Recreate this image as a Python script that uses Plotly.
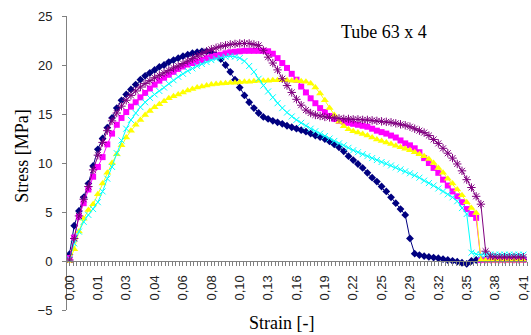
import plotly.graph_objects as go

strain_labels = ["0,00", "0,01", "0,03", "0,04", "0,06", "0,08", "0,10", "0,13", "0,16",
                 "0,19", "0,22", "0,25", "0,29", "0,32", "0,35", "0,38", "0,41"]
label_step = 6

s1_navy = [0.7, 3.6, 5.1, 6.5, 7.9, 9.7, 11.4, 12.5, 13.6, 14.6,
           15.6, 16.4, 17.0, 17.5, 18.0, 18.5, 18.9, 19.2, 19.5, 19.8,
           20.0, 20.3, 20.5, 20.7, 20.9, 21.05, 21.2, 21.3, 21.4, 21.4,
           21.3, 21.0, 20.6, 20.0, 19.3, 18.5, 17.7, 16.9, 16.2, 15.6,
           15.1, 14.7, 14.5, 14.3, 14.15, 14.0, 13.8, 13.65, 13.5, 13.35,
           13.2, 13.0, 12.8, 12.65, 12.45, 12.2, 11.9, 11.6, 11.2, 10.7,
           10.3, 9.9, 9.5, 9.0, 8.5, 8.1, 7.6, 7.1, 6.5, 5.9,
           5.3, 4.7, 2.3, 0.75, 0.6, 0.5, 0.42, 0.35, 0.28, 0.2,
           0.1, 0.02, -0.07, -0.18, -0.3, 0.0, 0.1, 0.12, 0.15, 0.15,
           0.15, 0.15, 0.15, 0.15, 0.15, 0.15, 0.15]

s2_magenta = [0.3, 2.4, 4.5, 5.9, 7.3, 8.6, 9.6, 10.6, 11.9, 13.0,
              13.9, 14.6, 15.2, 15.75, 16.2, 16.7, 17.15, 17.6, 18.0, 18.4,
              18.7, 19.0, 19.3, 19.6, 19.85, 20.05, 20.2, 20.35, 20.5, 20.7,
              20.85, 20.95, 21.05, 21.2, 21.3, 21.35, 21.4, 21.45, 21.45, 21.45,
              21.45, 21.45, 21.4, 21.15, 20.7, 20.2, 19.7, 19.1, 18.5, 17.8,
              17.2, 16.6, 16.1, 15.6, 15.2, 14.8, 14.5, 14.3, 14.2, 14.1,
              14.0, 13.9, 13.8, 13.7, 13.5, 13.3, 13.15, 13.0, 12.8, 12.6,
              12.3, 12.0, 11.8, 11.5, 11.1, 10.5, 10.0, 9.5, 9.0, 8.3,
              7.7, 7.1, 6.6, 6.0, 5.3, 4.8, 4.4, 0.1, 0.1, 0.1,
              0.1, 0.1, 0.1, 0.1, 0.1, 0.1, 0.1]

s3_yellow = [0.0, 1.2, 3.0, 4.3, 5.2, 5.8, 6.8, 7.9, 9.0, 10.0,
             10.9, 11.8, 12.6, 13.3, 13.9, 14.4, 14.9, 15.3, 15.7, 16.0,
             16.3, 16.6, 16.8, 17.0, 17.2, 17.4, 17.55, 17.7, 17.8, 17.9,
             18.0, 18.05, 18.1, 18.15, 18.2, 18.2, 18.25, 18.3, 18.3, 18.35,
             18.4, 18.4, 18.4, 18.45, 18.45, 18.45, 18.45, 18.4, 18.4, 18.35,
             18.3, 18.1, 17.7, 17.1, 16.4, 15.6, 14.9, 14.2, 13.75, 13.45,
             13.25, 13.1, 12.95, 12.8, 12.6, 12.4, 12.25, 12.1, 11.95, 11.75,
             11.6, 11.45, 11.3, 11.1, 10.9, 10.7, 10.4, 10.0, 9.5, 9.0,
             8.4, 7.9, 7.3, 6.7, 6.0, 5.4, 4.9, 0.1, 0.05, 0.05,
             0.05, 0.05, 0.05, 0.05, 0.05, 0.05, 0.05]

s4_cyan = [0.2, 1.8, 3.0, 4.0, 4.7, 5.3, 6.0, 7.1, 8.4, 9.6,
           11.0, 12.3, 13.5, 14.4, 15.1, 15.7, 16.2, 16.65, 17.0, 17.35,
           17.7, 18.1, 18.45, 18.8, 19.1, 19.4, 19.65, 19.9, 20.1, 20.3,
           20.5, 20.65, 20.75, 20.85, 20.9, 20.85, 20.7, 20.4, 19.9, 19.3,
           18.6, 17.9, 17.3, 16.7, 16.1, 15.6, 15.15, 14.75, 14.4, 14.1,
           13.8, 13.5, 13.25, 13.0, 12.75, 12.5, 12.25, 12.0, 11.8, 11.55,
           11.3, 11.1, 10.9, 10.7, 10.5, 10.3, 10.1, 9.95, 9.75, 9.55,
           9.35, 9.15, 8.95, 8.75, 8.5, 8.2, 7.95, 7.7, 7.4, 7.1,
           6.8, 6.5, 6.1, 5.4, 4.8, 0.85, 0.7, 0.65, 0.65, 0.65,
           0.65, 0.65, 0.65, 0.65, 0.65, 0.65, 0.65]

s5_purple = [0.1, 2.3, 4.6, 6.3, 7.6, 9.3, 10.8, 12.1, 13.3, 14.3,
             15.1, 15.8, 16.4, 16.9, 17.35, 17.75, 18.1, 18.4, 18.7, 18.95,
             19.2, 19.45, 19.7, 19.9, 20.15, 20.4, 20.65, 20.9, 21.15, 21.4,
             21.6, 21.75, 21.9, 22.0, 22.1, 22.15, 22.2, 22.2, 22.2, 22.1,
             22.0, 21.5, 20.8, 20.2, 19.5, 18.6, 17.9, 17.2, 16.5, 15.9,
             15.4, 15.1, 14.9, 14.8, 14.7, 14.65, 14.6, 14.55, 14.5, 14.5,
             14.45, 14.45, 14.4, 14.4, 14.35, 14.3, 14.25, 14.2, 14.15, 14.05,
             13.95, 13.85, 13.7, 13.5, 13.3, 13.1, 12.8, 12.4, 12.0, 11.5,
             11.0, 10.5, 9.9, 9.2, 8.3, 7.5, 6.6, 5.8, 1.0, 0.5,
             0.4, 0.4, 0.4, 0.4, 0.4, 0.4, 0.4]

series = [
    ("s1", s1_navy, "#000080", "diamond", 6),
    ("s2", s2_magenta, "#FF00FF", "square", 6),
    ("s3", s3_yellow, "#FFFF00", "triangle-up", 7),
    ("s4", s4_cyan, "#00FFFF", "x-thin-open", 6),
    ("s5", s5_purple, "#800080", "asterisk-open", 7),
]

fig = go.Figure()
for name, ys, col, sym, sz in series:
    xs = list(range(len(ys)))
    mk = dict(symbol=sym, size=sz, color=col)
    if sym.endswith("open"):
        mk["line"] = dict(color=col, width=1)
    else:
        mk["line"] = dict(width=0)
    fig.add_trace(go.Scatter(x=xs, y=ys, mode="lines+markers", name=name,
                             line=dict(color=col, width=1), marker=mk,
                             showlegend=False, cliponaxis=True))

n_labels = len(strain_labels)
tickvals = [k * label_step for k in range(n_labels)]

fig.update_layout(
    width=531, height=335,
    margin=dict(l=67, r=0, t=16, b=25),
    paper_bgcolor="white", plot_bgcolor="white",
    showlegend=False,
    xaxis=dict(
        range=[-0.524, 96.75], anchor="free", position=5 / 30,
        showline=True, linecolor="#808080", linewidth=1,
        showgrid=False, zeroline=False,
        tickmode="array", tickvals=tickvals, ticktext=strain_labels,
        tickangle=-90, ticks="outside", ticklen=4, tickcolor="#808080",
        ticklabelstandoff=4, ticklabeloverflow="allow",
        tickfont=dict(family="Liberation Sans", size=13, color="#222"),
        minor=dict(ticks="outside", ticklen=4, tickcolor="#808080",
                   tick0=0, dtick=0.75, showgrid=False),
    ),
    yaxis=dict(
        range=[-5, 25], tickvals=[-5, 0, 5, 10, 15, 20, 25],
        showline=True, linecolor="#808080", linewidth=1,
        showgrid=False, zeroline=False,
        ticks="outside", ticklen=4, tickcolor="#808080",
        ticklabelstandoff=7,
        tickfont=dict(family="Liberation Sans", size=13, color="#222"),
    ),
    annotations=[
        dict(text="Stress [MPa]", xref="paper", yref="paper", x=-0.098, y=0.524,
             textangle=-90, showarrow=False, xanchor="center", yanchor="middle",
             font=dict(family="Liberation Serif", size=18, color="black")),
        dict(text="Strain [-]", xref="paper", yref="paper", x=0.4655, y=-0.044,
             showarrow=False, xanchor="center", yanchor="middle",
             font=dict(family="Liberation Serif", size=18, color="black")),
        dict(text="Tube 63 x 4", xref="paper", yref="paper", x=0.6886, y=0.9456,
             showarrow=False, xanchor="center", yanchor="middle",
             font=dict(family="Liberation Serif", size=18, color="black")),
    ],
)

fig.write_html("out.html")
